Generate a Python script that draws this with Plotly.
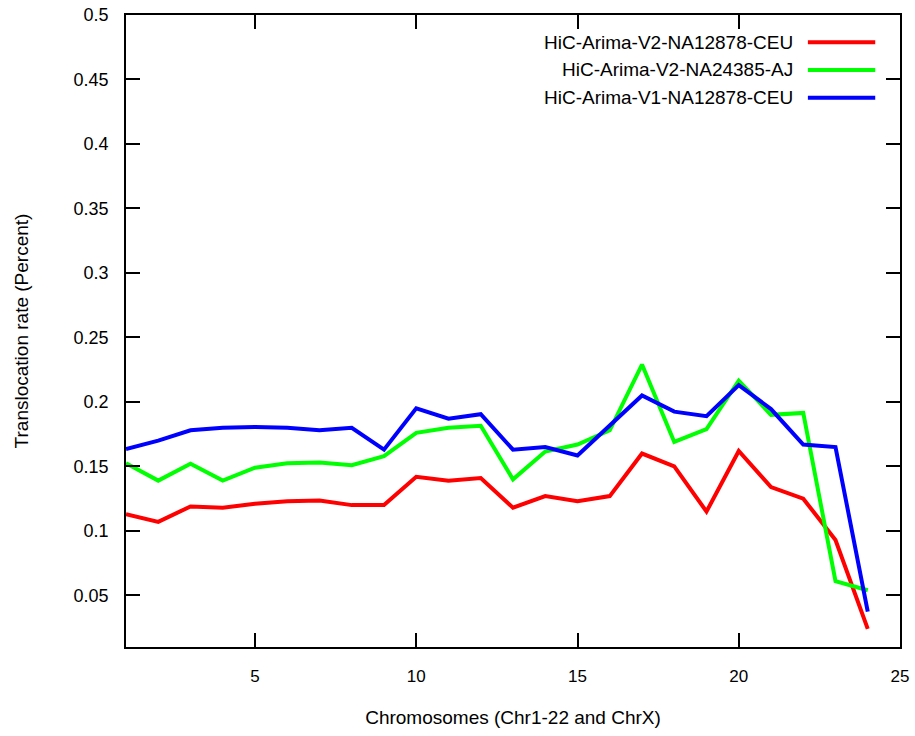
import plotly.graph_objects as go

chromosomes = list(range(1, 25))
v2_na12878 = [0.113, 0.107, 0.119, 0.118, 0.121, 0.123, 0.1235, 0.120, 0.120, 0.142,
              0.139, 0.141, 0.118, 0.127, 0.123, 0.127, 0.160, 0.150, 0.115, 0.162,
              0.134, 0.125, 0.093, 0.024]
v2_na24385 = [0.1525, 0.139, 0.152, 0.139, 0.149, 0.1525, 0.153, 0.151, 0.158, 0.176,
              0.180, 0.1815, 0.140, 0.1615, 0.167, 0.178, 0.229, 0.169, 0.179, 0.2165,
              0.190, 0.1915, 0.061, 0.054]
v1_na12878 = [0.1635, 0.170, 0.178, 0.180, 0.1805, 0.180, 0.178, 0.180, 0.163, 0.195,
              0.187, 0.1905, 0.163, 0.165, 0.1585, 0.182, 0.205, 0.1925, 0.189, 0.213,
              0.1945, 0.167, 0.165, 0.0375]

series_names = ["HiC-Arima-V2-NA12878-CEU", "HiC-Arima-V2-NA24385-AJ", "HiC-Arima-V1-NA12878-CEU"]
series_values = [v2_na12878, v2_na24385, v1_na12878]
series_colors = ["#ff0000", "#00ff00", "#0000ff"]
x_ticks = [5, 10, 15, 20, 25]
y_ticks = [0.05, 0.1, 0.15, 0.2, 0.25, 0.3, 0.35, 0.4, 0.45, 0.5]
y_tick_text = ["0.05", "0.1", "0.15", "0.2", "0.25", "0.3", "0.35", "0.4", "0.45", "0.5"]

FONT = "Liberation Sans, Arial, sans-serif"

fig = go.Figure()
for name, vals, col in zip(series_names, series_values, series_colors):
    fig.add_trace(go.Scatter(x=chromosomes, y=vals, mode="lines", name=name,
                             line=dict(color=col, width=4), showlegend=False))

# Legend drawn manually (text left of line sample, as in reference)
legend_y = [0.957, 0.913, 0.869]
for name, col, ly in zip(series_names, series_colors, legend_y):
    fig.add_annotation(x=0.864, y=ly, xref="paper", yref="paper", text=name,
                       showarrow=False, xanchor="right", yanchor="middle",
                       font=dict(family=FONT, size=19, color="#000000"))
    fig.add_shape(type="line", xref="paper", yref="paper", x0=0.881, x1=0.968,
                  y0=ly, y1=ly, line=dict(color=col, width=4))

axis_common = dict(showgrid=False, zeroline=False, showline=True, linecolor="#000000",
                   linewidth=1.5, mirror="allticks", ticks="inside", ticklen=14,
                   tickcolor="#000000", tickwidth=1.5, automargin=False,
                   ticklabeloverflow="allow")

fig.update_xaxes(range=[1, 25], tickvals=x_ticks, ticklabelstandoff=13,
                 tickfont=dict(family=FONT, size=17, color="#000000"),
                 title=dict(text="Chromosomes (Chr1-22 and ChrX)", standoff=26,
                            font=dict(family=FONT, size=19, color="#000000")),
                 **axis_common)
fig.update_yaxes(range=[0.01, 0.5], tickvals=y_ticks, ticktext=y_tick_text, ticklabelstandoff=12,
                 tickfont=dict(family=FONT, size=18, color="#000000"),
                 title=dict(text="Translocation rate (Percent)", standoff=40,
                            font=dict(family=FONT, size=19, color="#000000")),
                 **axis_common)

fig.update_layout(width=915, height=736, margin=dict(l=126, r=15, t=15, b=89),
                  plot_bgcolor="#ffffff", paper_bgcolor="#ffffff")

fig.write_html("out.html")
